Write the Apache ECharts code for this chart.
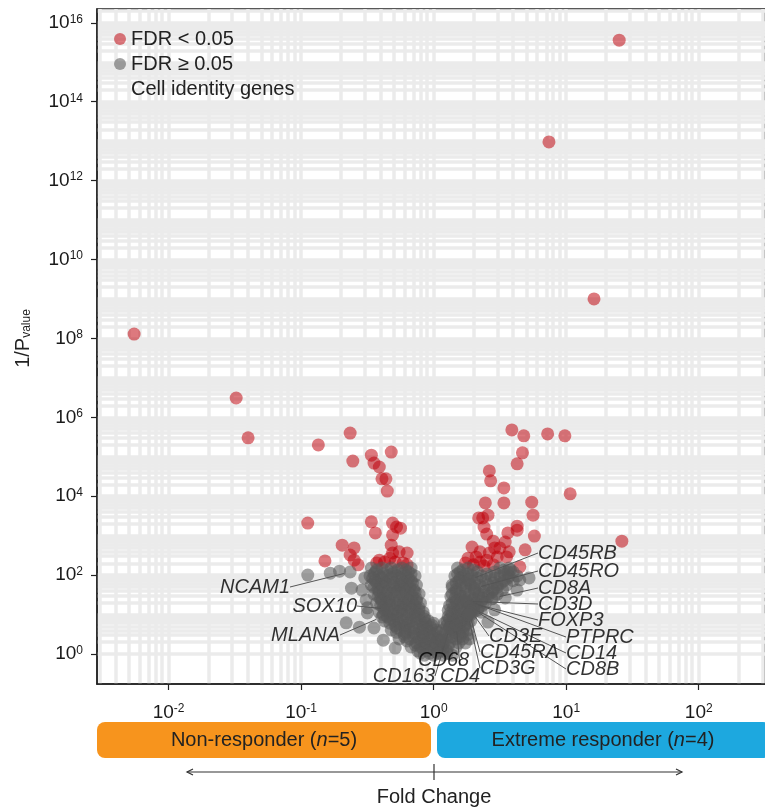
<!DOCTYPE html>
<html>
<head>
<meta charset="utf-8">
<title>Volcano plot</title>
<script src="https://cdn.jsdelivr.net/npm/echarts@6/dist/echarts.min.js"></script>
<style>
  html, body { margin: 0; padding: 0; background: #fff; }
  #chart { width: 765px; height: 808px; }
</style>
</head>
<body>
<div id="chart"></div>
<script>
// values, in log10 units: [log10 fold change, log10 (1/P)]
const sigPoints = [
  [1.40, 15.56], [0.87, 12.98], [1.21, 9.00], [-2.26, 8.11], [-1.49, 6.49], [-1.40, 5.48],
  [-0.87, 5.30], [-0.63, 5.60], [-0.61, 4.89], [-0.47, 5.04], [-0.32, 5.12], [-0.45, 4.84],
  [-0.41, 4.74], [-0.39, 4.44], [-0.36, 4.44], [-0.35, 4.13], [-0.95, 3.32], [-0.47, 3.35],
  [-0.44, 3.07], [-0.31, 3.32], [-0.28, 3.22], [-0.25, 3.19], [-0.31, 3.02], [-0.32, 2.76],
  [-0.69, 2.76], [-0.60, 2.69], [-0.63, 2.51], [-0.60, 2.38], [-0.57, 2.26], [-0.82, 2.36],
  [-0.31, 2.56], [-0.26, 2.59], [-0.20, 2.56], [-0.43, 2.31], [-0.37, 2.33], [-0.29, 2.33],
  [-0.23, 2.31], [-0.20, 2.26], [-0.33, 2.43], [-0.41, 2.38],
  [0.59, 5.68], [0.68, 5.53], [0.86, 5.58], [0.99, 5.53], [0.67, 5.10], [0.63, 4.82],
  [0.42, 4.64], [0.43, 4.39], [0.53, 4.21], [1.03, 4.06], [0.39, 3.83], [0.53, 3.83],
  [0.74, 3.85], [0.75, 3.52], [0.41, 3.52], [0.37, 3.45], [0.38, 3.22], [0.40, 3.04],
  [0.63, 3.24], [0.63, 3.14], [0.56, 3.07], [0.76, 2.99], [0.45, 2.86], [0.54, 2.84],
  [0.46, 2.69], [0.69, 2.64], [0.57, 2.59], [0.29, 2.71], [1.42, 2.86], [0.65, 2.21],
  [0.34, 3.45], [0.26, 2.43], [0.32, 2.46], [0.35, 2.33], [0.40, 2.38], [0.42, 2.56],
  [0.48, 2.46], [0.55, 2.46], [0.30, 2.26], [0.38, 2.23], [0.45, 2.26], [0.24, 2.31],
  [0.50, 2.69], [0.35, 2.59]
];

const nsPoints = [
  // left arm
  [-0.95, 2.00], [-0.78, 2.05], [-0.71, 2.10], [-0.62, 1.67], [-0.51, 1.37], [-0.50, 1.04],
  [-0.66, 0.79], [-0.56, 0.68], [-0.54, 1.62], [-0.52, 1.93], [-0.50, 1.17], [-0.45, 0.66],
  [-0.38, 0.35], [-0.29, 0.15],
  [-0.47, 2.18], [-0.39, 2.18], [-0.32, 2.18], [-0.24, 2.18], [-0.17, 2.18],
  [-0.43, 2.13], [-0.35, 2.13], [-0.27, 2.13], [-0.21, 2.13],
  [-0.44, 2.08], [-0.30, 2.08], [-0.19, 2.08],
  [-0.45, 2.03], [-0.38, 2.03], [-0.31, 2.03], [-0.24, 2.03], [-0.17, 2.03],
  [-0.48, 1.98], [-0.41, 1.98], [-0.35, 1.98], [-0.28, 1.98], [-0.21, 1.98], [-0.14, 1.98],
  [-0.46, 1.92], [-0.39, 1.92], [-0.32, 1.92], [-0.26, 1.92], [-0.19, 1.92],
  [-0.44, 1.86], [-0.37, 1.86], [-0.24, 1.86], [-0.17, 1.86],
  [-0.43, 1.80], [-0.36, 1.80], [-0.30, 1.80], [-0.23, 1.80], [-0.16, 1.80],
  [-0.47, 1.75], [-0.40, 1.75], [-0.33, 1.75], [-0.26, 1.75], [-0.20, 1.75], [-0.13, 1.75],
  [-0.45, 1.69], [-0.38, 1.69], [-0.31, 1.69], [-0.25, 1.69], [-0.18, 1.69],
  [-0.42, 1.63], [-0.29, 1.63], [-0.22, 1.63], [-0.15, 1.63],
  [-0.41, 1.57], [-0.35, 1.57], [-0.28, 1.57], [-0.21, 1.57], [-0.14, 1.57],
  [-0.45, 1.52], [-0.38, 1.52], [-0.32, 1.52], [-0.25, 1.52], [-0.18, 1.52], [-0.11, 1.52],
  [-0.42, 1.46], [-0.36, 1.46], [-0.29, 1.46], [-0.23, 1.46], [-0.16, 1.46],
  [-0.40, 1.40], [-0.34, 1.40], [-0.20, 1.40], [-0.13, 1.40],
  [-0.39, 1.34], [-0.33, 1.34], [-0.26, 1.34], [-0.19, 1.34], [-0.13, 1.34],
  [-0.43, 1.29], [-0.36, 1.29], [-0.29, 1.29], [-0.23, 1.29], [-0.16, 1.29], [-0.10, 1.29],
  [-0.40, 1.23], [-0.33, 1.23], [-0.27, 1.23], [-0.21, 1.23], [-0.14, 1.23],
  [-0.38, 1.17], [-0.25, 1.17], [-0.18, 1.17], [-0.11, 1.17],
  [-0.37, 1.11], [-0.30, 1.11], [-0.24, 1.11], [-0.17, 1.11], [-0.11, 1.11],
  [-0.41, 1.06], [-0.34, 1.06], [-0.27, 1.06], [-0.20, 1.06], [-0.14, 1.06], [-0.08, 1.06],
  [-0.38, 1.00], [-0.31, 1.00], [-0.24, 1.00], [-0.18, 1.00], [-0.11, 1.00],
  [-0.35, 0.95], [-0.28, 0.95], [-0.14, 0.95], [-0.07, 0.95],
  [-0.33, 0.89], [-0.27, 0.89], [-0.20, 0.89], [-0.13, 0.89], [-0.07, 0.89],
  [-0.37, 0.84], [-0.30, 0.84], [-0.23, 0.84], [-0.17, 0.84], [-0.10, 0.84], [-0.04, 0.84],
  [-0.33, 0.78], [-0.26, 0.78], [-0.19, 0.78], [-0.13, 0.78], [-0.06, 0.78], [0.00, 0.78],
  [-0.29, 0.72], [-0.21, 0.72], [-0.08, 0.72], [-0.01, 0.72],
  [-0.28, 0.67], [-0.22, 0.67], [-0.15, 0.67], [-0.08, 0.67], [-0.02, 0.67],
  [-0.32, 0.61], [-0.25, 0.61], [-0.18, 0.61], [-0.11, 0.61], [-0.05, 0.61], [0.02, 0.61],
  [-0.28, 0.55], [-0.21, 0.55], [-0.15, 0.55], [-0.09, 0.55], [-0.03, 0.55], [0.03, 0.55],
  [-0.22, 0.50], [-0.14, 0.50], [-0.07, 0.50], [0.00, 0.50],
  [-0.22, 0.44], [-0.15, 0.44], [-0.08, 0.44], [-0.01, 0.44], [0.05, 0.44],
  [-0.26, 0.38], [-0.18, 0.38], [-0.11, 0.38], [-0.04, 0.38], [0.03, 0.38],
  [-0.20, 0.33], [-0.09, 0.33], [-0.02, 0.33], [0.05, 0.33],
  [-0.13, 0.28], [-0.06, 0.28], [0.01, 0.28], [0.08, 0.28],
  [-0.14, 0.23], [-0.07, 0.23], [0.00, 0.23], [0.07, 0.23],
  [-0.17, 0.18], [-0.10, 0.18], [-0.03, 0.18], [0.04, 0.18], [0.11, 0.18],
  [-0.08, 0.13], [0.00, 0.13], [0.07, 0.13],
  [-0.12, 0.08], [-0.05, 0.08], [0.05, 0.08], [0.10, 0.08],
  [-0.10, 0.02], [-0.03, 0.02], [0.03, 0.02], [0.10, 0.02],
  [-0.07, -0.03], [0.00, -0.03], [0.07, -0.03], [0.14, -0.03],
  // right arm
  [0.18, 2.18], [0.26, 2.18], [0.50, 2.18], [0.57, 2.18],
  [0.22, 2.13], [0.30, 2.13], [0.53, 2.13], [0.58, 2.13],
  [0.20, 2.08], [0.33, 2.08], [0.46, 2.08], [0.60, 2.08],
  [0.18, 2.03], [0.26, 2.03], [0.40, 2.03], [0.53, 2.03],
  [0.16, 1.98], [0.23, 1.98], [0.29, 1.98], [0.36, 1.98], [0.43, 1.98], [0.50, 1.98], [0.57, 1.98], [0.63, 1.98],
  [0.20, 1.92], [0.33, 1.92], [0.46, 1.92], [0.56, 1.92],
  [0.19, 1.86], [0.26, 1.86], [0.39, 1.86], [0.53, 1.86], [0.60, 1.86],
  [0.17, 1.80], [0.24, 1.80], [0.31, 1.80], [0.45, 1.80], [0.51, 1.80],
  [0.14, 1.75], [0.21, 1.75], [0.28, 1.75], [0.35, 1.75], [0.41, 1.75], [0.48, 1.75], [0.55, 1.75],
  [0.14, 1.69], [0.24, 1.69], [0.38, 1.69], [0.48, 1.69],
  [0.17, 1.63], [0.31, 1.63], [0.45, 1.63], [0.52, 1.63],
  [0.17, 1.57], [0.24, 1.57], [0.31, 1.57], [0.38, 1.57], [0.44, 1.57],
  [0.14, 1.52], [0.20, 1.52], [0.27, 1.52], [0.34, 1.52], [0.41, 1.52], [0.48, 1.52],
  [0.13, 1.46], [0.20, 1.46], [0.23, 1.46], [0.34, 1.46], [0.41, 1.46],
  [0.16, 1.40], [0.30, 1.40], [0.37, 1.40], [0.44, 1.40],
  [0.17, 1.34], [0.29, 1.34], [0.36, 1.34],
  [0.14, 1.29], [0.20, 1.29], [0.26, 1.29], [0.32, 1.29], [0.39, 1.29],
  [0.12, 1.23], [0.18, 1.23], [0.28, 1.23], [0.31, 1.23], [0.37, 1.23],
  [0.15, 1.17], [0.21, 1.17], [0.34, 1.17],
  [0.11, 1.11], [0.20, 1.11], [0.33, 1.11],
  [0.13, 1.06], [0.18, 1.06], [0.23, 1.06], [0.30, 1.06], [0.36, 1.06],
  [0.14, 1.00], [0.21, 1.00], [0.28, 1.00],
  [0.11, 0.95], [0.18, 0.95], [0.25, 0.95],
  [0.12, 0.89], [0.18, 0.89], [0.25, 0.89],
  [0.10, 0.84], [0.15, 0.84], [0.21, 0.84], [0.28, 0.84],
  [0.08, 0.78], [0.13, 0.78], [0.20, 0.78], [0.26, 0.78],
  [0.10, 0.72], [0.17, 0.72], [0.23, 0.72],
  [0.12, 0.67], [0.18, 0.67], [0.23, 0.67],
  [0.07, 0.61], [0.14, 0.61], [0.20, 0.61], [0.26, 0.61],
  [0.09, 0.55], [0.16, 0.55], [0.22, 0.55],
  [0.12, 0.50], [0.19, 0.50], [0.26, 0.50],
  [0.13, 0.44], [0.20, 0.44],
  [0.10, 0.38], [0.17, 0.38], [0.22, 0.38], [0.27, 0.38],
  [0.12, 0.28], [0.19, 0.28], [0.24, 0.28],
  [0.17, 0.18],
  [0.56, 2.08], [0.65, 1.88], [0.72, 1.93], [0.63, 1.62], [0.54, 1.42], [0.46, 1.12], [0.41, 0.81]
];

const geneNames = ['NCAM1', 'SOX10', 'MLANA', 'CD68', 'CD163', 'CD4',
  'CD45RB', 'CD45RO', 'CD8A', 'CD3D', 'FOXP3', 'PTPRC', 'CD14', 'CD8B',
  'CD3E', 'CD45RA', 'CD3G'];
const genePoints = [
  [-0.63, 2.08], [-0.35, 1.14], [-0.39, 0.94], [0.06, 0.35], [0.12, 0.66], [0.17, 0.74],
  [0.27, 1.88], [0.31, 1.67], [0.45, 1.42], [0.23, 1.34], [0.25, 1.32], [0.24, 1.37],
  [0.27, 1.19], [0.30, 1.13], [0.28, 1.10], [0.27, 1.04], [0.26, 0.99]
];

const xTicks = [-2, -1, 0, 1, 2];
const yTicks = [0, 2, 4, 6, 8, 10, 12, 14, 16];
const groupLabels = ['Non-responder', 'Extreme responder'];
const groupSizes = [5, 4];

// where each gene label sits (pixels) and how it is aligned
const geneLabelPos = {
  NCAM1: [290, 587, 'right'], SOX10: [357, 606, 'right'], MLANA: [340, 635, 'right'],
  CD68: [418, 660, 'left'], CD163: [435, 676, 'right'], CD4: [440, 676, 'left'],
  CD45RB: [538, 553, 'left'], CD45RO: [538, 571, 'left'], CD8A: [538, 588, 'left'],
  CD3D: [538, 604, 'left'], FOXP3: [538, 620, 'left'], PTPRC: [566, 637, 'left'],
  CD14: [566, 653, 'left'], CD8B: [566, 669, 'left'], CD3E: [489, 636, 'left'],
  CD45RA: [480, 652, 'left'], CD3G: [480, 668, 'left']
};

const FONT = "'Liberation Sans', Arial, Helvetica, sans-serif";
const xMin = -2.54, xMax = 2.50;
const yMin = -0.76, yMax = 16.35;
const RED = 'rgba(190, 0, 10, 0.66)';
const GRAY = 'rgba(90, 90, 90, 0.7)';

// light gray log grid, lines at 1..9 x 10^k
const gridLines = [];
for (let d = -3; d <= 2; d++) {
  for (let k = 1; k <= 9; k++) {
    const v = d + Math.log10(k);
    if (v > xMin && v < xMax) gridLines.push({ xAxis: v });
  }
}
for (let d = 0; d <= 16; d++) {
  for (let k = 1; k <= 9; k++) {
    const v = d + Math.log10(k);
    if (v >= yMin && v < yMax) gridLines.push({ yAxis: v });
  }
}

const powLabel = v => '10{sup|' + v + '}';
const supRich = {
  sup: { fontSize: 12, lineHeight: 12, padding: [0, 0, 10, 0], verticalAlign: 'top', color: '#1a1a1a', fontFamily: FONT }
};

const chart = echarts.init(document.getElementById('chart'), null, { renderer: 'canvas' });

const option = {
  animation: false,
  backgroundColor: '#fff',
  textStyle: { fontFamily: FONT },
  grid: {
    left: 97, top: 9, width: 669, height: 675,
    show: true, backgroundColor: '#fff', borderColor: '#222', borderWidth: 1.5
  },
  legend: {
    orient: 'vertical', left: 109, top: 24,
    itemWidth: 12, itemHeight: 12, itemGap: 5,
    selectedMode: false,
    textStyle: { fontSize: 20, lineHeight: 20, color: '#222', fontFamily: FONT },
    data: [
      { name: 'FDR < 0.05', icon: 'circle' },
      { name: 'FDR ≥ 0.05', icon: 'circle' },
      { name: 'Cell identity genes', icon: 'none' }
    ]
  },
  xAxis: {
    type: 'value', min: xMin, max: xMax,
    splitLine: { show: false },
    axisLine: { show: true, onZero: false, lineStyle: { color: '#222', width: 1.5 } },
    axisTick: { show: true, length: 6, customValues: xTicks, lineStyle: { color: '#222', width: 1.2 } },
    axisLabel: {
      customValues: xTicks, margin: 19, fontSize: 19, color: '#1a1a1a',
      formatter: powLabel, rich: supRich
    }
  },
  yAxis: {
    type: 'value', min: yMin, max: yMax,
    splitLine: { show: false },
    axisLine: { show: true, onZero: false, lineStyle: { color: '#222', width: 1.5 } },
    axisTick: { show: true, length: 6, customValues: yTicks, lineStyle: { color: '#222', width: 1.2 } },
    axisLabel: {
      customValues: yTicks, margin: 14, fontSize: 19, color: '#1a1a1a',
      formatter: powLabel, rich: supRich
    },
    name: '1/P{sub|value}',
    nameLocation: 'middle', nameRotate: 90, nameGap: 64,
    nameTextStyle: {
      fontSize: 20, color: '#222', fontFamily: FONT, padding: [0, 0, 0, 16],
      rich: { sub: { fontSize: 12, lineHeight: 12, padding: [10, 0, 0, 0], verticalAlign: 'bottom', color: '#222', fontFamily: FONT } }
    }
  },
  series: [
    {
      name: 'grid', type: 'scatter', data: [], z: 0, zlevel: 0, silent: true,
      markLine: {
        silent: true, symbol: 'none', animation: false, z: 0, zlevel: 0,
        label: { show: false },
        lineStyle: { color: '#ebebeb', width: 3.5, type: 'solid' },
        emphasis: { disabled: true },
        data: gridLines
      }
    },
    {
      name: 'FDR < 0.05', type: 'scatter', z: 2,
      symbolSize: 13, itemStyle: { color: RED },
      data: sigPoints
    },
    {
      name: 'FDR ≥ 0.05', type: 'scatter', z: 3,
      symbolSize: 13, itemStyle: { color: GRAY },
      data: nsPoints
    },
    {
      name: 'Cell identity genes', type: 'scatter', z: 4,
      symbolSize: 13, itemStyle: { color: GRAY },
      data: genePoints.map((p, i) => ({ name: geneNames[i], value: p })),
      label: {
        show: true, position: 'right', formatter: '{b}',
        fontSize: 20, fontStyle: 'italic', color: '#000', fontFamily: FONT
      },
      labelLine: { show: true, lineStyle: { color: '#555', width: 1 } },
      labelLayout: params => {
        const pos = geneLabelPos[geneNames[params.dataIndex]];
        return { x: pos[0], y: pos[1], align: pos[2], verticalAlign: 'middle' };
      }
    }
  ],
  graphic: [
    { type: 'rect', shape: { x: 97, y: 722, width: 334, height: 36, r: 8 }, style: { fill: '#F7941D' } },
    {
      type: 'text', x: 264, y: 740,
      style: {
        text: groupLabels[0] + ' ({i|n}=' + groupSizes[0] + ')',
        fontSize: 20, fontFamily: FONT, fill: '#222', align: 'center', verticalAlign: 'middle',
        rich: { i: { fontSize: 20, fontFamily: FONT, fontStyle: 'italic', fill: '#222' } }
      }
    },
    { type: 'rect', shape: { x: 437, y: 722, width: 334, height: 36, r: 8 }, style: { fill: '#1DA8DF' } },
    {
      type: 'text', x: 603, y: 740,
      style: {
        text: groupLabels[1] + ' ({i|n}=' + groupSizes[1] + ')',
        fontSize: 20, fontFamily: FONT, fill: '#222', align: 'center', verticalAlign: 'middle',
        rich: { i: { fontSize: 20, fontFamily: FONT, fontStyle: 'italic', fill: '#222' } }
      }
    },
    // fold change arrow
    { type: 'line', shape: { x1: 187, y1: 772, x2: 682, y2: 772 }, style: { stroke: '#333', lineWidth: 1.2 } },
    { type: 'polyline', shape: { points: [[193, 769], [187, 772], [193, 775]] }, style: { stroke: '#333', fill: null, lineWidth: 1.2 } },
    { type: 'polyline', shape: { points: [[676, 769], [682, 772], [676, 775]] }, style: { stroke: '#333', fill: null, lineWidth: 1.2 } },
    { type: 'line', shape: { x1: 434, y1: 764, x2: 434, y2: 780 }, style: { stroke: '#333', lineWidth: 1.2 } },
    {
      type: 'text', x: 434, y: 797,
      style: { text: 'Fold Change', fontSize: 20, fontFamily: FONT, fill: '#222', align: 'center', verticalAlign: 'middle' }
    }
  ]
};

chart.setOption(option);
</script>
</body>
</html>
